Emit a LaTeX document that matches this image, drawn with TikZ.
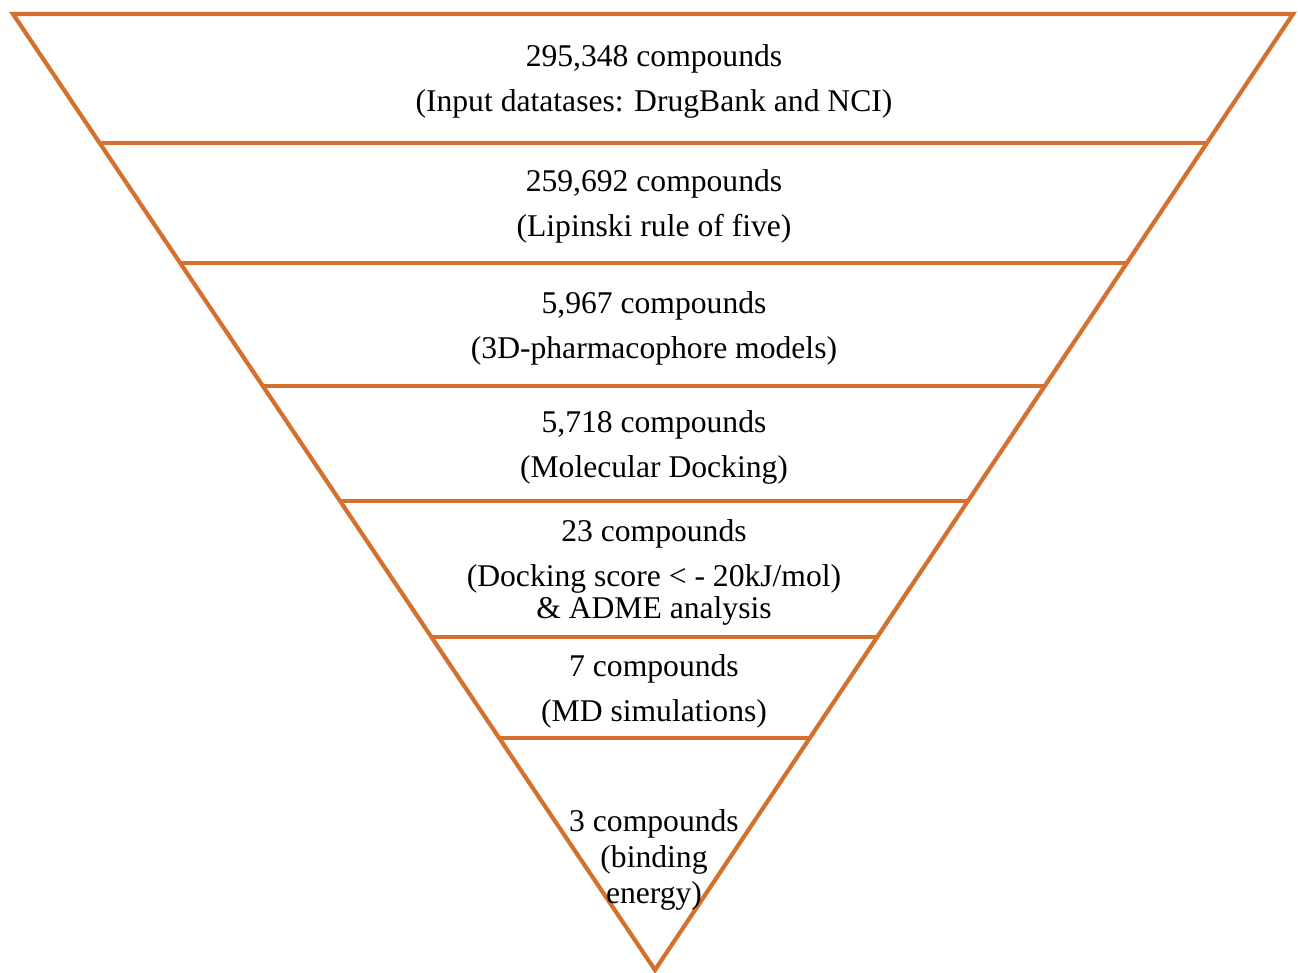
\documentclass[tikz,border=0pt]{standalone}
\usepackage{fontspec}
\setmainfont{Liberation Serif}
\usepackage{tikz}
\usetikzlibrary{calc}
\definecolor{funnelorange}{HTML}{D4712F}
\tikzstyle{funnel} = [draw=funnelorange, line width=2.4pt, line join=miter]
\tikzstyle{stage} = [align=center, inner sep=0pt, font=\fontsize{18}{25.6}\selectfont]

\begin{document}
\begin{tikzpicture}[x=0.02cm, y=-0.02cm]
\useasboundingbox (0,0) rectangle (1298,973);
\coordinate (topleft) at (13,14);
\coordinate (topright) at (1293,14);
\coordinate (apex) at (655,970);
\draw[funnel] (topleft) -- (topright) -- (apex) -- cycle;
% cut lines between the stages
\foreach \y in {143,263,386,501,637,738} {
  \pgfmathsetmacro{\t}{(\y-14)/956}
  \draw[funnel] ($(topleft)!\t!(apex)$) -- ($(topright)!\t!(apex)$);
}
\node[stage] (input) at (654,81) {295,348 compounds\\(Input datatases: DrugBank and NCI)};
\node[stage] (lipinski) at (654,206) {259,692 compounds\\(Lipinski rule of five)};
\node[stage] (pharma) at (654,328) {5,967 compounds\\(3D-pharmacophore models)};
\node[stage] (docking) at (654,447) {5,718 compounds\\(Molecular Docking)};
\node[stage] (adme) at (654,572) {23 compounds\\(Docking score < - 20kJ/mol)\\[-7.4pt]\& ADME analysis};
\node[stage] (md) at (654,691) {7 compounds\\(MD simulations)};
\node[stage] (energy) at (654,860) {3 compounds\\[-5pt](binding\\[-5pt]energy)};
\end{tikzpicture}
\end{document}
